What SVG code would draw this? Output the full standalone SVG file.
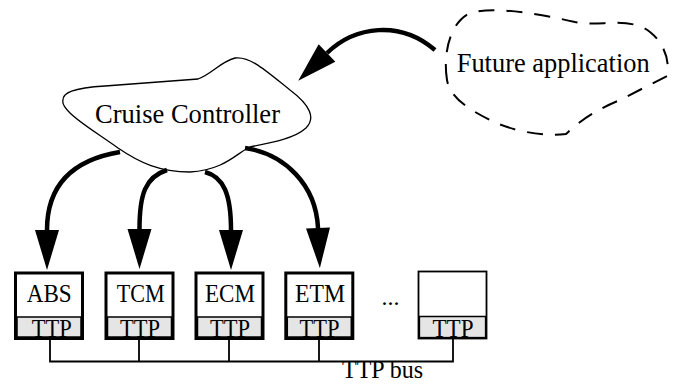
<svg xmlns="http://www.w3.org/2000/svg" width="683" height="386" viewBox="0 0 683 386">
<style>
text{font-family:"Liberation Serif","Times New Roman",serif;fill:#000}
.lbl{font-size:26px}
.big{font-size:27.5px}
.box{fill:#fff;stroke:#000;stroke-width:3}
.boxthin{fill:#fff;stroke:#000;stroke-width:1.8}
.ttp{fill:#e5e5e5;stroke:#000;stroke-width:1.5}
.conn{fill:none;stroke:#000;stroke-width:4.5;marker-end:url(#ah)}
.bus{fill:none;stroke:#000;stroke-width:1.8}
</style>
<defs>
<marker id="ah" markerUnits="userSpaceOnUse" markerWidth="42" markerHeight="26" refX="0" refY="12" orient="auto" viewBox="0 0 42 26" overflow="visible">
<path d="M0,0 L40,12 L0,24 Z" fill="#000"/>
</marker>
</defs>
<rect width="683" height="386" fill="#fff"/>
<g id="cruise-controller">
<path d="M63,100 C63,93 72,88 105,86 L198,79 C212,74 220,62 235,58 C250,56 265,70 290,90 C310,105 316,118 306,128 C295,138 275,142 250,147 C238,152 225,170 190,172 C160,172 140,163 118,148 C100,135 80,123 70,113 C64,107 62,103 63,100 Z" fill="#fff" stroke="#000" stroke-width="1.3"/>
<text class="big" x="95" y="123" textLength="185" lengthAdjust="spacingAndGlyphs">Cruise Controller</text>
</g>
<g id="future-application">
<path d="M447,80 C443,55 449,25 468,14 C490,5 540,14 575,22 C600,27 630,16 650,32 C665,44 670,62 667,76 L620,100 C600,108 580,120 566,134 C540,137 510,130 490,120 C470,110 450,98 447,80 Z" fill="none" stroke="#000" stroke-width="2" stroke-dasharray="16 12"/>
<text class="big" x="456.7" y="72" textLength="193" lengthAdjust="spacingAndGlyphs">Future application</text>
</g>
<g id="abs">
<rect class="box" x="15.5" y="273" width="67" height="65.5"/>
<rect class="ttp" x="17" y="317" width="64" height="20"/>
<text class="lbl" x="26.7" y="302" textLength="45" lengthAdjust="spacingAndGlyphs">ABS</text>
<text class="lbl" x="31.7" y="337" textLength="40" lengthAdjust="spacingAndGlyphs">TTP</text>
</g>
<g id="tcm">
<rect class="box" x="106" y="273" width="67" height="65.5"/>
<rect class="ttp" x="107.5" y="317" width="64" height="20"/>
<text class="lbl" x="116.7" y="302" textLength="48" lengthAdjust="spacingAndGlyphs">TCM</text>
<text class="lbl" x="120" y="337" textLength="40" lengthAdjust="spacingAndGlyphs">TTP</text>
</g>
<g id="ecm">
<rect class="box" x="196" y="273" width="67" height="65.5"/>
<rect class="ttp" x="197.5" y="317" width="64" height="20"/>
<text class="lbl" x="205" y="302" textLength="50" lengthAdjust="spacingAndGlyphs">ECM</text>
<text class="lbl" x="210" y="337" textLength="40" lengthAdjust="spacingAndGlyphs">TTP</text>
</g>
<g id="etm">
<rect class="box" x="285.8" y="273" width="67" height="65.5"/>
<rect class="ttp" x="287.3" y="317" width="64" height="20"/>
<text class="lbl" x="295" y="302" textLength="50" lengthAdjust="spacingAndGlyphs">ETM</text>
<text class="lbl" x="299.5" y="337" textLength="40" lengthAdjust="spacingAndGlyphs">TTP</text>
</g>
<g id="ellipsis">
<text x="381.5" y="305" style="font-size:24px">...</text>
</g>
<g id="node-n">
<rect class="boxthin" x="418.5" y="271.5" width="68" height="67"/>
<rect class="ttp" x="419.4" y="316.5" width="66.2" height="21.1"/>
<text class="lbl" x="432.5" y="337" textLength="41" lengthAdjust="spacingAndGlyphs">TTP</text>
</g>
<g id="ttp-bus">
<path class="bus" d="M50,340 V361.5 H453 V338.5 M139,340 V361.5 M229,340 V361.5 M319,340 V361.5"/>
<text x="342" y="377.5" style="font-size:25px" textLength="81" lengthAdjust="spacingAndGlyphs">TTP bus</text>
</g>
<g id="connectors">
<path class="conn" d="M435,50 C400,20 355,26 327,53"/>
<path class="conn" d="M120,152 C72,160 47,185 47,230"/>
<path class="conn" d="M167,170 C145,177 139.5,195 139.5,229"/>
<path class="conn" d="M205,172 C224,177 231,195 231,230"/>
<path class="conn" d="M245,148 C285,154 316,185 318,228"/>
</g>
</svg>
